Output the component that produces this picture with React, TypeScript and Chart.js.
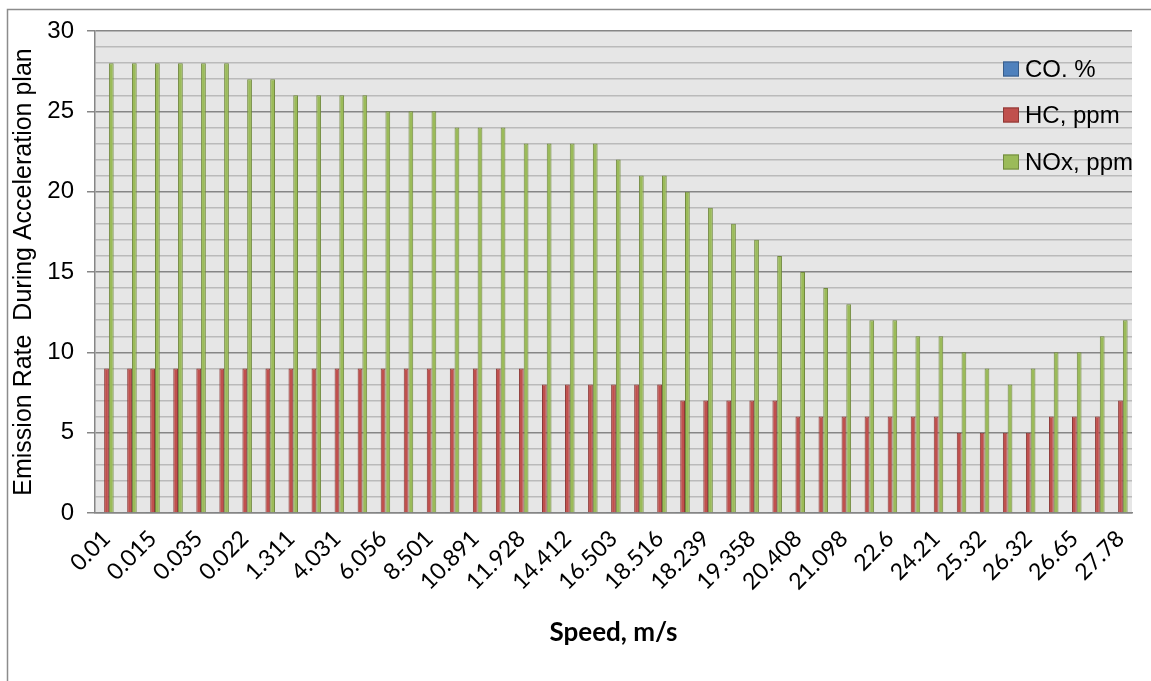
import { useEffect, useRef } from "react";
import { Chart, registerables } from "chart.js";

Chart.register(...registerables);

// Speed categories (m/s); odd entries are not printed on the axis in the source chart, so they are estimates
const speedLabels = [
  "0.01", "0.012", "0.015", "0.02", "0.035", "0.03", "0.022", "0.5", "1.311", "2.5",
  "4.031", "5.1", "6.056", "7.3", "8.501", "9.8", "10.891", "11.4", "11.928", "13.2",
  "14.412", "15.6", "16.503", "17.5", "18.516", "18.4", "18.239", "18.8", "19.358", "19.9",
  "20.408", "20.8", "21.098", "21.9", "22.6", "23.4", "24.21", "24.8", "25.32", "25.8",
  "26.32", "26.5", "26.65", "27.2", "27.78",
];

const coValues = [
  0.06, 0.06, 0.06, 0.06, 0.06, 0.06, 0.06, 0.06, 0.06, 0.06,
  0.06, 0.06, 0.06, 0.06, 0.06, 0.06, 0.06, 0.06, 0.06, 0.06,
  0.06, 0.06, 0.06, 0.06, 0.06, 0.06, 0.06, 0.06, 0.06, 0.06,
  0.06, 0.06, 0.06, 0.06, 0.06, 0.06, 0.06, 0.06, 0.06, 0.06,
  0.06, 0.06, 0.06, 0.06, 0.06,
];

const hcValues = [
  9, 9, 9, 9, 9, 9, 9, 9, 9, 9,
  9, 9, 9, 9, 9, 9, 9, 9, 9, 8,
  8, 8, 8, 8, 8, 7, 7, 7, 7, 7,
  6, 6, 6, 6, 6, 6, 6, 5, 5, 5,
  5, 6, 6, 6, 7,
];

const noxValues = [
  28, 28, 28, 28, 28, 28, 27, 27, 26, 26,
  26, 26, 25, 25, 25, 24, 24, 24, 23, 23,
  23, 23, 22, 21, 21, 20, 19, 18, 17, 16,
  15, 14, 13, 12, 12, 11, 11, 10, 9, 8,
  9, 10, 10, 11, 12,
];

const seriesNames = ["CO. %", "HC, ppm", "NOx, ppm"];
const yTitle = "Emission Rate  During Acceleration plan";
const xTitle = "Speed, m/s";

const fills = ["#4F81BD", "#C0504D", "#9BBB59"];
const borders = ["#385D8A", "#8C3836", "#71893F"];

const plotBg = {
  id: "plotBg",
  beforeDraw(chart: any) {
    const { ctx, chartArea: a } = chart;
    ctx.save();
    ctx.fillStyle = "#e6e6e6";
    ctx.fillRect(a.left, a.top, a.right - a.left, a.bottom - a.top);
    ctx.restore();
  },
  afterDraw(chart: any) {
    const { ctx, width, height } = chart;
    ctx.save();
    ctx.strokeStyle = "#8c8c8c";
    ctx.lineWidth = 1.5;
    ctx.beginPath();
    ctx.moveTo(7.5, height);
    ctx.lineTo(7.5, 9.5);
    ctx.lineTo(width, 9.5);
    ctx.stroke();
    ctx.restore();
  },
};

const innerLegend = {
  id: "innerLegend",
  afterDatasetsDraw(chart: any) {
    const { ctx } = chart;
    const ys = [69, 115, 162];
    ctx.save();
    ctx.font = "24px 'Liberation Sans', Arial, sans-serif";
    ctx.textBaseline = "middle";
    chart.data.datasets.forEach((ds: any, i: number) => {
      const y = ys[i];
      ctx.fillStyle = ds.backgroundColor;
      ctx.fillRect(1003, y - 7.5, 16, 15);
      ctx.strokeStyle = ds.borderColor;
      ctx.lineWidth = 1;
      ctx.strokeRect(1003.5, y - 7, 15, 14);
      ctx.fillStyle = "#000";
      ctx.fillText(ds.label, 1025, y + 1);
    });
    ctx.restore();
  },
};

export default function App() {
  const ref = useRef<HTMLCanvasElement>(null);
  useEffect(() => {
    const datasets = [coValues, hcValues, noxValues].map((vals, i) => ({
      label: seriesNames[i],
      data: vals,
      backgroundColor: fills[i],
      borderColor: borders[i],
      borderWidth: 1,
      barPercentage: 1,
      categoryPercentage: 0.62,
    }));
    const chart = new Chart(ref.current!, {
      type: "bar",
      data: { labels: speedLabels, datasets },
      plugins: [plotBg, innerLegend],
      options: {
        animation: false,
        responsive: false,
        layout: { padding: { left: 0, right: 19, top: 31, bottom: 0 } },
        plugins: { legend: { display: false }, tooltip: { enabled: false } },
        scales: {
          x: {
            grid: { display: false },
            border: { display: true, color: "#868686", width: 1.5 },
            ticks: {
              autoSkip: false,
              minRotation: 45,
              maxRotation: 45,
              padding: 4,
              color: "#000",
              font: { family: "Lato, 'Open Sans', sans-serif", size: 23 },
              callback: (_v: any, i: number) => (i % 2 === 0 ? speedLabels[i] : ""),
            },
            title: {
              display: true,
              text: xTitle,
              color: "#000",
              font: { family: "Lato, sans-serif", size: 26, weight: "bold" },
              padding: { top: 0, bottom: 33 },
            },
            afterFit: (s: any) => {
              s.height = 168;
            },
          },
          y: {
            min: 0,
            max: 30,
            grid: {
              color: (c: any) => (c.tick && c.tick.value % 5 === 0 ? "#868686" : "#bababa"),
              lineWidth: 1.5,
              tickLength: 8,
              tickColor: (c: any) => (c.tick && c.tick.value % 5 === 0 ? "#868686" : "rgba(0,0,0,0)"),
            },
            border: { display: true, color: "#868686", width: 1.5 },
            ticks: {
              stepSize: 1,
              maxTicksLimit: 40,
              autoSkip: false,
              padding: 13,
              color: "#000",
              font: { family: "'Liberation Sans', Arial, sans-serif", size: 24 },
              callback: (v: any) => (Number(v) % 5 === 0 ? String(v) : ""),
            },
            title: {
              display: true,
              text: yTitle,
              color: "#000",
              font: { family: "'Liberation Sans', Arial, sans-serif", size: 25 },
              padding: { top: 9, bottom: 0 },
            },
            afterFit: (s: any) => {
              s.width = 95;
            },
          },
        },
      },
    });
    return () => chart.destroy();
  }, []);
  return (
    <div style={{ position: "fixed", left: 0, top: 0, width: 1151, height: 681, background: "#fff" }}>
      <canvas ref={ref} width={1151} height={681} style={{ display: "block", width: 1151, height: 681 }} />
    </div>
  );
}
